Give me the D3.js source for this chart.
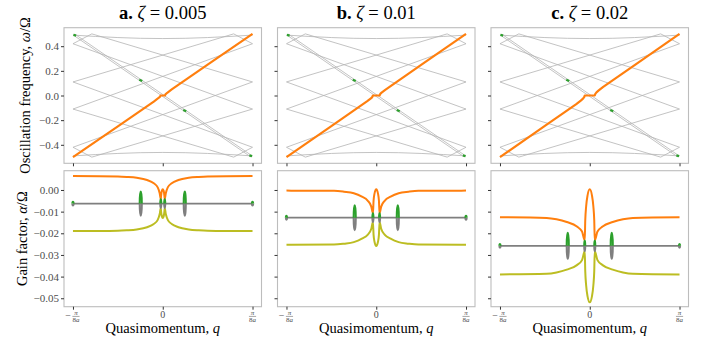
<!DOCTYPE html>
<html>
<head>
<meta charset="utf-8">
<script src="https://cdn.jsdelivr.net/npm/d3@7"></script>
<style>
    body { margin: 0; background: #fff; }
    text { font-family: "Liberation Serif", serif; }
</style>
</head>
<body>
<svg id="chart" width="710" height="338"></svg>
<script>
//  panel titles
var panelTags = ["a", "b", "c"];
var zetaText = ["0.005", "0.01", "0.02"];

//  ticks (q in units of pi/8a)
var qTicks = [-1, 0, 1];
var freqTicks = [0.4, 0.2, 0.0, -0.2, -0.4];
var gainTicks = [0.00, -0.01, -0.02, -0.03, -0.04, -0.05];

//  folded bands [q, omega/Omega], same in every panel
var bandLines = [
    [[-1, 0.11], [0.79, 0.5], [1, 0.42]],
    [[-1, 0.42], [-0.79, 0.5], [1, 0.11]],
    [[-1, -0.11], [0.79, -0.5], [1, -0.42]],
    [[-1, -0.42], [-0.79, -0.5], [1, -0.11]],
    [[-1, 0.42], [1, -0.11]],
    [[-1, 0.11], [1, -0.42]],
    [[-1, -0.11], [1, 0.42]],
    [[-1, -0.42], [1, 0.11]],
    [[-1, 0.49], [-0.75, 0.479], [-0.5, 0.47], [-0.25, 0.464], [0, 0.462], [0.25, 0.464], [0.5, 0.47], [0.75, 0.479], [1, 0.49]],
    [[-1, -0.49], [-0.75, -0.479], [-0.5, -0.47], [-0.25, -0.464], [0, -0.462], [0.25, -0.464], [0.5, -0.47], [0.75, -0.479], [1, -0.49]],
    [[-0.98, 0.498], [0.98, -0.482]],
    [[-0.98, 0.482], [0.98, -0.498]]
];

//  orange frequency branch, per panel
var orangeFreqQ = [
    [-1, -0.5, -0.1, -0.05, -0.03, -0.024, 0.024, 0.03, 0.05, 0.1, 0.5, 1],
    [-1, -0.5, -0.1, -0.06, -0.045, -0.037, 0.037, 0.045, 0.06, 0.1, 0.5, 1],
    [-1, -0.5, -0.15, -0.1, -0.075, -0.062, -0.056, 0.056, 0.062, 0.075, 0.1, 0.15, 0.5, 1]
];
var orangeFreqW = [
    [-0.5, -0.25, -0.049, -0.022, -0.009, 0, 0, 0.009, 0.022, 0.049, 0.25, 0.5],
    [-0.5, -0.249, -0.046, -0.024, -0.013, 0, 0, 0.013, 0.024, 0.046, 0.249, 0.5],
    [-0.5, -0.247, -0.07, -0.041, -0.025, -0.013, 0, 0, 0.013, 0.025, 0.041, 0.07, 0.247, 0.5]
];

//  green marks on the frequency plots
var greenFreqQ = [[-0.995, -0.965], [-0.262, -0.228], [0.228, 0.262], [0.965, 0.995]];
var greenFreqW = [[0.492, 0.486], [0.128, 0.118], [-0.118, -0.128], [-0.486, -0.492]];

//  gain factor alpha/Omega, per panel
var gainQ = [
    [-1, -0.5, -0.4, -0.29, -0.175, -0.1, -0.056, -0.034, -0.022, -0.018, -0.01, 0, 0.01, 0.018, 0.022, 0.034, 0.056, 0.1, 0.175, 0.29, 0.4, 0.5, 1],
    [-1, -0.47, -0.36, -0.25, -0.16, -0.096, -0.055, -0.037, -0.03, -0.02, 0, 0.02, 0.03, 0.037, 0.055, 0.096, 0.16, 0.25, 0.36, 0.47, 1],
    [-1, -0.48, -0.37, -0.256, -0.143, -0.086, -0.056, -0.05, -0.04, -0.025, 0, 0.025, 0.04, 0.05, 0.056, 0.086, 0.143, 0.256, 0.37, 0.48, 1]
];
var orangeGain = [
    [0.0064, 0.0062, 0.0060, 0.0056, 0.0046, 0.0031, 0.0012, -0.0015, -0.0043, -0.0025, -0.0004, 0.0003, -0.0004, -0.0025, -0.0043, -0.0015, 0.0012, 0.0031, 0.0046, 0.0056, 0.0060, 0.0062, 0.0064],
    [-0.0003, -0.0004, -0.0008, -0.0015, -0.0031, -0.0049, -0.0077, -0.0108, -0.0050, -0.0018, 0.0003, -0.0018, -0.0050, -0.0108, -0.0077, -0.0049, -0.0031, -0.0015, -0.0008, -0.0004, -0.0003],
    [-0.0126, -0.0129, -0.0135, -0.0148, -0.0169, -0.0192, -0.0233, -0.0140, -0.0075, -0.0026, 0.0003, -0.0026, -0.0075, -0.0140, -0.0233, -0.0192, -0.0169, -0.0148, -0.0135, -0.0129, -0.0126]
];
var oliveGain = [
    [-0.0190, -0.0188, -0.0186, -0.0182, -0.0172, -0.0157, -0.0138, -0.0111, -0.0083, -0.0101, -0.0122, -0.0129, -0.0122, -0.0101, -0.0083, -0.0111, -0.0138, -0.0157, -0.0172, -0.0182, -0.0186, -0.0188, -0.0190],
    [-0.0253, -0.0252, -0.0248, -0.0241, -0.0225, -0.0207, -0.0179, -0.0148, -0.0206, -0.0238, -0.0259, -0.0238, -0.0206, -0.0148, -0.0179, -0.0207, -0.0225, -0.0241, -0.0248, -0.0252, -0.0253],
    [-0.0390, -0.0387, -0.0381, -0.0368, -0.0347, -0.0324, -0.0283, -0.0376, -0.0441, -0.0490, -0.0519, -0.0490, -0.0441, -0.0376, -0.0283, -0.0324, -0.0347, -0.0368, -0.0381, -0.0387, -0.0390]
];
var grayGain = [-0.0063, -0.0128, -0.0258];

//  small loops sitting on the gray line: centre q, half height, half width
var loopQ = [
    [-1, -0.245, -0.022, 0.022, 0.245, 1],
    [-1, -0.24, -0.037, 0.037, 0.24, 1],
    [-1, -0.245, -0.056, 0.056, 0.245, 1]
];
var loopH = [
    [0.0009, 0.0056, 0.0020, 0.0020, 0.0056, 0.0009],
    [0.0009, 0.0058, 0.0020, 0.0020, 0.0058, 0.0009],
    [0.0009, 0.0060, 0.0025, 0.0025, 0.0060, 0.0009]
];
var loopW = [0.007, 0.012, 0.006, 0.006, 0.012, 0.007];

//  layout
var svg = d3.select("#chart");
var panelLeft = [64, 277.5, 491], panelW = 197.5;
var topBox = [27.7, 163.3], botBox = [170.7, 306.7];
var serif = "Liberation Serif, serif";
var tickGray = "#4d4d4d";

var cOrange = "#ff7f0e", cOlive = "#bcbd22", cGray = "#7f7f7f", cGreen = "#2ca02c", cBand = "#b4b4b4";

panelTags.forEach(function (tag, i) {
    var x = d3.scaleLinear().domain([-1.1, 1.1]).range([panelLeft[i], panelLeft[i] + panelW]);
    var yf = d3.scaleLinear().domain([-0.55, 0.55]).range([topBox[1], topBox[0]]);
    var yg = d3.scaleLinear().domain([-0.0539, 0.0089]).range([botBox[1], botBox[0]]);

    //  ---- top: frequency ----
    var top = svg.append("g");
    var straight = d3.line()
            .x(function (d) { return x(d[0]); })
            .y(function (d) { return yf(d[1]); });

    top.selectAll(".band").data(bandLines).enter().append("path")
            .attr("class", "band")
            .attr("d", straight)
            .attr("fill", "none")
            .attr("stroke", cBand)
            .attr("stroke-width", 0.8);

    var orangePts = orangeFreqQ[i].map(function (q, k) { return [q, orangeFreqW[i][k]]; });
    top.append("path")
            .attr("d", straight(orangePts))
            .attr("fill", "none")
            .attr("stroke", cOrange)
            .attr("stroke-width", 2.2)
            .attr("stroke-linejoin", "round");

    greenFreqQ.forEach(function (qq, k) {
        top.append("path")
                .attr("d", straight([[qq[0], greenFreqW[k][0]], [qq[1], greenFreqW[k][1]]]))
                .attr("stroke", cGreen)
                .attr("stroke-width", 2.2);
    });

    top.append("rect")
            .attr("x", panelLeft[i]).attr("y", topBox[0])
            .attr("width", panelW).attr("height", topBox[1] - topBox[0])
            .attr("fill", "none").attr("stroke", "#bdbdbd").attr("stroke-width", 1.1);

    //  ---- bottom: gain ----
    var bot = svg.append("g");
    var smooth = d3.line()
            .x(function (d) { return x(d[0]); })
            .y(function (d) { return yg(d[1]); })
            .curve(d3.curveMonotoneX);

    bot.append("path")
            .attr("d", smooth([[-1, grayGain[i]], [1, grayGain[i]]]))
            .attr("stroke", cGray).attr("stroke-width", 1.8);

    bot.append("path")
            .attr("d", smooth(gainQ[i].map(function (q, k) { return [q, oliveGain[i][k]]; })))
            .attr("fill", "none").attr("stroke", cOlive).attr("stroke-width", 2);

    bot.append("path")
            .attr("d", smooth(gainQ[i].map(function (q, k) { return [q, orangeGain[i][k]]; })))
            .attr("fill", "none").attr("stroke", cOrange).attr("stroke-width", 2);

    loopQ[i].forEach(function (q, k) {
        var cx = x(q), cy = yg(grayGain[i]);
        var rx = x(q + loopW[k]) - x(q);
        var ry = cy - yg(grayGain[i] + loopH[i][k]);
        bot.append("path")
                .attr("d", "M" + (cx - rx) + "," + cy + "A" + rx + "," + ry + " 0 0 0 " + (cx + rx) + "," + cy)
                .attr("fill", "none").attr("stroke", cGray).attr("stroke-width", 2);
        bot.append("path")
                .attr("d", "M" + (cx - rx) + "," + cy + "A" + rx + "," + ry + " 0 0 1 " + (cx + rx) + "," + cy)
                .attr("fill", "none").attr("stroke", cGreen).attr("stroke-width", 2);
    });

    bot.append("rect")
            .attr("x", panelLeft[i]).attr("y", botBox[0])
            .attr("width", panelW).attr("height", botBox[1] - botBox[0])
            .attr("fill", "none").attr("stroke", "#bdbdbd").attr("stroke-width", 1.1);

    //  ---- axes ----
    var ayTop = svg.append("g")
            .attr("transform", "translate(" + panelLeft[i] + ",0)")
            .call(d3.axisLeft(yf).tickValues(freqTicks).tickSize(3).tickPadding(2)
                    .tickFormat(i === 0 ? d3.format(".1f") : function () { return ""; }));
    var ayBot = svg.append("g")
            .attr("transform", "translate(" + panelLeft[i] + ",0)")
            .call(d3.axisLeft(yg).tickValues(gainTicks).tickSize(3).tickPadding(2)
                    .tickFormat(i === 0 ? d3.format(".2f") : function () { return ""; }));
    var axTop = svg.append("g")
            .attr("transform", "translate(0," + topBox[1] + ")")
            .call(d3.axisBottom(x).tickValues(qTicks).tickSize(3).tickFormat(function () { return ""; }));
    var axBot = svg.append("g")
            .attr("transform", "translate(0," + botBox[1] + ")")
            .call(d3.axisBottom(x).tickValues(qTicks).tickSize(3).tickFormat(function () { return ""; }));

    [ayTop, ayBot, axTop, axBot].forEach(function (a) {
        a.select(".domain").remove();
        a.selectAll("line").attr("stroke", "#333").attr("stroke-width", 1);
        a.attr("font-family", serif).attr("font-size", 11);
        a.selectAll("text").attr("fill", tickGray);
    });

    //  x tick labels  -pi/8a, 0, pi/8a
    qTicks.forEach(function (q) {
        var cx = x(q);
        if (q === 0) {
            svg.append("text").attr("x", cx).attr("y", 318.3)
                    .attr("text-anchor", "middle").attr("font-size", 10)
                    .attr("fill", tickGray).text("0");
            return;
        }
        var fx = q < 0 ? cx + 3 : cx;
        if (q < 0) {
            svg.append("text").attr("x", cx - 5).attr("y", 318.5)
                    .attr("text-anchor", "middle").attr("font-size", 10)
                    .attr("fill", tickGray).text("\u2212");
        }
        svg.append("text").attr("x", fx).attr("y", 314.8)
                .attr("text-anchor", "middle").attr("font-size", 7)
                .attr("font-style", "italic").attr("fill", tickGray).text("\u03c0");
        svg.append("line")
                .attr("x1", fx - 3.6).attr("x2", fx + 3.6)
                .attr("y1", 316.4).attr("y2", 316.4)
                .attr("stroke", tickGray).attr("stroke-width", 0.5);
        var den = svg.append("text").attr("x", fx).attr("y", 321.6)
                .attr("text-anchor", "middle").attr("font-size", 7).attr("fill", tickGray);
        den.append("tspan").text("8");
        den.append("tspan").attr("font-style", "italic").text("a");
    });

    //  title
    var cxp = panelLeft[i] + panelW / 2;
    var title = svg.append("text").attr("x", cxp).attr("y", 18.5)
            .attr("text-anchor", "middle").attr("font-size", 18.5).attr("fill", "#000");
    title.append("tspan").attr("font-weight", "bold").text(tag + ".");
    title.append("tspan").text(" ");
    title.append("tspan").attr("font-style", "italic").text("\u03b6");
    title.append("tspan").text(" = " + zetaText[i]);

    //  x axis title
    var xt = svg.append("text").attr("x", cxp).attr("y", 333)
            .attr("text-anchor", "middle").attr("font-size", 14.5).attr("fill", "#000");
    xt.append("tspan").text("Quasimomentum, ");
    xt.append("tspan").attr("font-style", "italic").text("q");
});

//  y axis titles
var ytTop = svg.append("text")
        .attr("transform", "translate(30," + (topBox[0] + topBox[1]) / 2 + ") rotate(-90)")
        .attr("text-anchor", "middle").attr("font-size", 14.5).attr("fill", "#000");
ytTop.append("tspan").text("Oscillation frequency, ");
ytTop.append("tspan").attr("font-style", "italic").text("\u03c9");
ytTop.append("tspan").text("/\u03a9");

var ytBot = svg.append("text")
        .attr("transform", "translate(27," + (botBox[0] + botBox[1]) / 2 + ") rotate(-90)")
        .attr("text-anchor", "middle").attr("font-size", 14.5).attr("fill", "#000");
ytBot.append("tspan").text("Gain factor, ");
ytBot.append("tspan").attr("font-style", "italic").text("\u03b1");
ytBot.append("tspan").text("/\u03a9");
</script>
</body>
</html>
